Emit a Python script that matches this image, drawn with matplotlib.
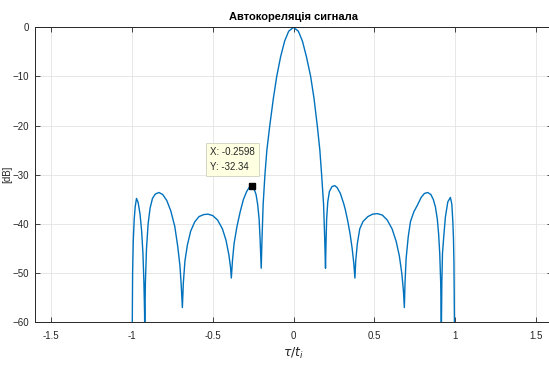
#!/usr/bin/env python3
"""Autocorrelation of a signal in dB, MATLAB-style figure with a data tip."""

import matplotlib
matplotlib.use("Agg")
import matplotlib.pyplot as plt

# delay axis, tau / t_i  (left to right)
tau = [
    -0.999,
    # outer lobe (left)
    -0.998, -0.996, -0.992, -0.986, -0.980, -0.972, -0.962, -0.950, -0.940, -0.932, -0.926, -0.922,
    # lobe around -0.83
    -0.921, -0.917, -0.910, -0.900, -0.888, -0.873, -0.855, -0.833, -0.810, -0.785, -0.760, -0.735,
    -0.717, -0.703, -0.695, -0.690,
    # lobe around -0.53
    -0.688, -0.682, -0.672, -0.657, -0.637, -0.612, -0.585, -0.557, -0.530, -0.500, -0.470, -0.440,
    -0.418, -0.400, -0.390, -0.385,
    # first sidelobe (left), peak at the data tip
    -0.378, -0.368, -0.350, -0.330, -0.310, -0.290, -0.275, -0.2598, -0.245, -0.232, -0.222, -0.213,
    -0.207, -0.200,
    # main lobe
    -0.195, -0.188, -0.177, -0.165, -0.147, -0.125, -0.104, -0.080, -0.055, -0.030, 0.0,
    0.030, 0.055, 0.080, 0.106, 0.127, 0.147, 0.163, 0.174, 0.186, 0.193, 0.198,
    # first sidelobe (right)
    0.201, 0.205, 0.212, 0.222, 0.238, 0.255, 0.270, 0.290, 0.310, 0.320, 0.335, 0.350, 0.363,
    0.373, 0.380,
    # lobe around 0.52
    0.385, 0.395, 0.410, 0.430, 0.460, 0.490, 0.520, 0.550, 0.580, 0.610, 0.635, 0.655, 0.670,
    0.680, 0.686,
    # lobe around 0.83
    0.690, 0.697, 0.710, 0.724, 0.745, 0.765, 0.790, 0.810, 0.830, 0.850, 0.865, 0.878, 0.890,
    0.898, 0.905, 0.911, 0.915,
    # outer lobe (right)
    0.918, 0.922, 0.930, 0.940, 0.955, 0.971, 0.980, 0.986, 0.990, 0.993, 0.996,
    0.997,
]

corr_db = [
    -100.0,
    -60.0, -50.0, -43.5, -39.0, -36.5, -34.8, -35.6, -38.0, -41.5, -46.0, -52.0, -58.0,
    -62.0, -52.0, -45.0, -40.0, -36.8, -34.8, -33.9, -33.6, -34.0, -35.2, -37.3, -40.5,
    -44.5, -48.5, -52.5, -55.5,
    -57.0, -52.0, -47.5, -44.3, -41.5, -39.6, -38.5, -38.1, -38.0, -38.3, -39.2, -41.0,
    -43.3, -46.3, -48.8, -51.0,
    -47.5, -44.0, -40.5, -37.5, -35.0, -33.4, -32.6, -32.34, -32.8, -34.0, -36.0, -39.0,
    -43.0, -49.0,
    -43.0, -36.0, -30.0, -25.0, -20.0, -14.5, -10.0, -6.0, -2.8, -0.8, 0.0,
    -0.8, -2.8, -6.0, -10.0, -14.5, -20.0, -25.0, -30.0, -36.0, -43.0, -49.0,
    -44.0, -39.0, -35.5, -33.4, -32.4, -32.2, -32.6, -33.8, -35.8, -37.0, -39.3, -42.0, -45.0,
    -48.0, -51.0,
    -47.5, -44.0, -41.0, -39.5, -38.5, -38.0, -37.9, -38.2, -39.2, -41.0, -43.5, -46.5, -50.0,
    -53.5, -57.0,
    -52.0, -47.0, -42.6, -39.5, -37.5, -36.3, -34.6, -33.8, -33.6, -34.0, -35.0, -36.5, -39.0,
    -42.0, -46.0, -52.0, -62.0,
    -52.0, -46.0, -42.5, -38.6, -35.5, -34.6, -36.0, -39.5, -43.0, -48.0, -60.0,
    -100.0,
]

tip_x = -0.2598
tip_y = -32.34

title = "Автокореляція сигнала"
xticks = [-1.5, -1, -0.5, 0, 0.5, 1, 1.5]
xtick_labels = ["-1.5", "-1", "-0.5", "0", "0.5", "1", "1.5"]
yticks = [0, -10, -20, -30, -40, -50, -60]

plt.rcParams["font.family"] = ["Liberation Sans", "DejaVu Sans"]
plt.rcParams["mathtext.fontset"] = "dejavusans"

fig = plt.figure(figsize=(5.49, 3.66), dpi=100)
ax = fig.add_axes([0.0638, 0.1194, 0.9417, 0.806])

ax.plot(tau, corr_db, color="#0072BD", lw=1.0, solid_joinstyle="round")
ax.plot([tip_x], [tip_y], marker="s", color="black", ms=4.5, ls="none", zorder=5)

ax.text(-0.515, -24.4, f"X: {tip_x:.4f}\nY: {tip_y:.2f}", fontsize=7, color="#262626",
        va="top", ha="left", linespacing=1.6, zorder=6,
        bbox=dict(boxstyle="square,pad=0.4", fc="#FFFFE1", ec="#D0D0C0", lw=0.6))

ax.set_xlim(-1.6, 1.6)
ax.set_ylim(-60, 0)
ax.set_xticks(xticks)
ax.set_xticklabels(xtick_labels)
ax.set_yticks(yticks)

ax.grid(True, color="#E3E3E3", lw=0.6)
ax.set_axisbelow(True)
ax.tick_params(direction="in", top=True, right=True, length=3.5, width=0.6,
               labelsize=7, colors="#262626")
ax.tick_params(axis="y", pad=4)
ax.tick_params(axis="x", pad=6)
for sp in ax.spines.values():
    sp.set_color("#262626")
    sp.set_linewidth(0.7)

ax.set_title(title, fontsize=8, fontweight="bold", color="#000000", pad=5)
ax.set_xlabel(r"$\tau/t_i$", fontsize=9, color="#262626", labelpad=4)
ax.set_ylabel("[dB]", fontsize=7, color="#262626")
ax.yaxis.set_label_coords(-0.045, 0.5)

fig.savefig("out.png", dpi=100)
